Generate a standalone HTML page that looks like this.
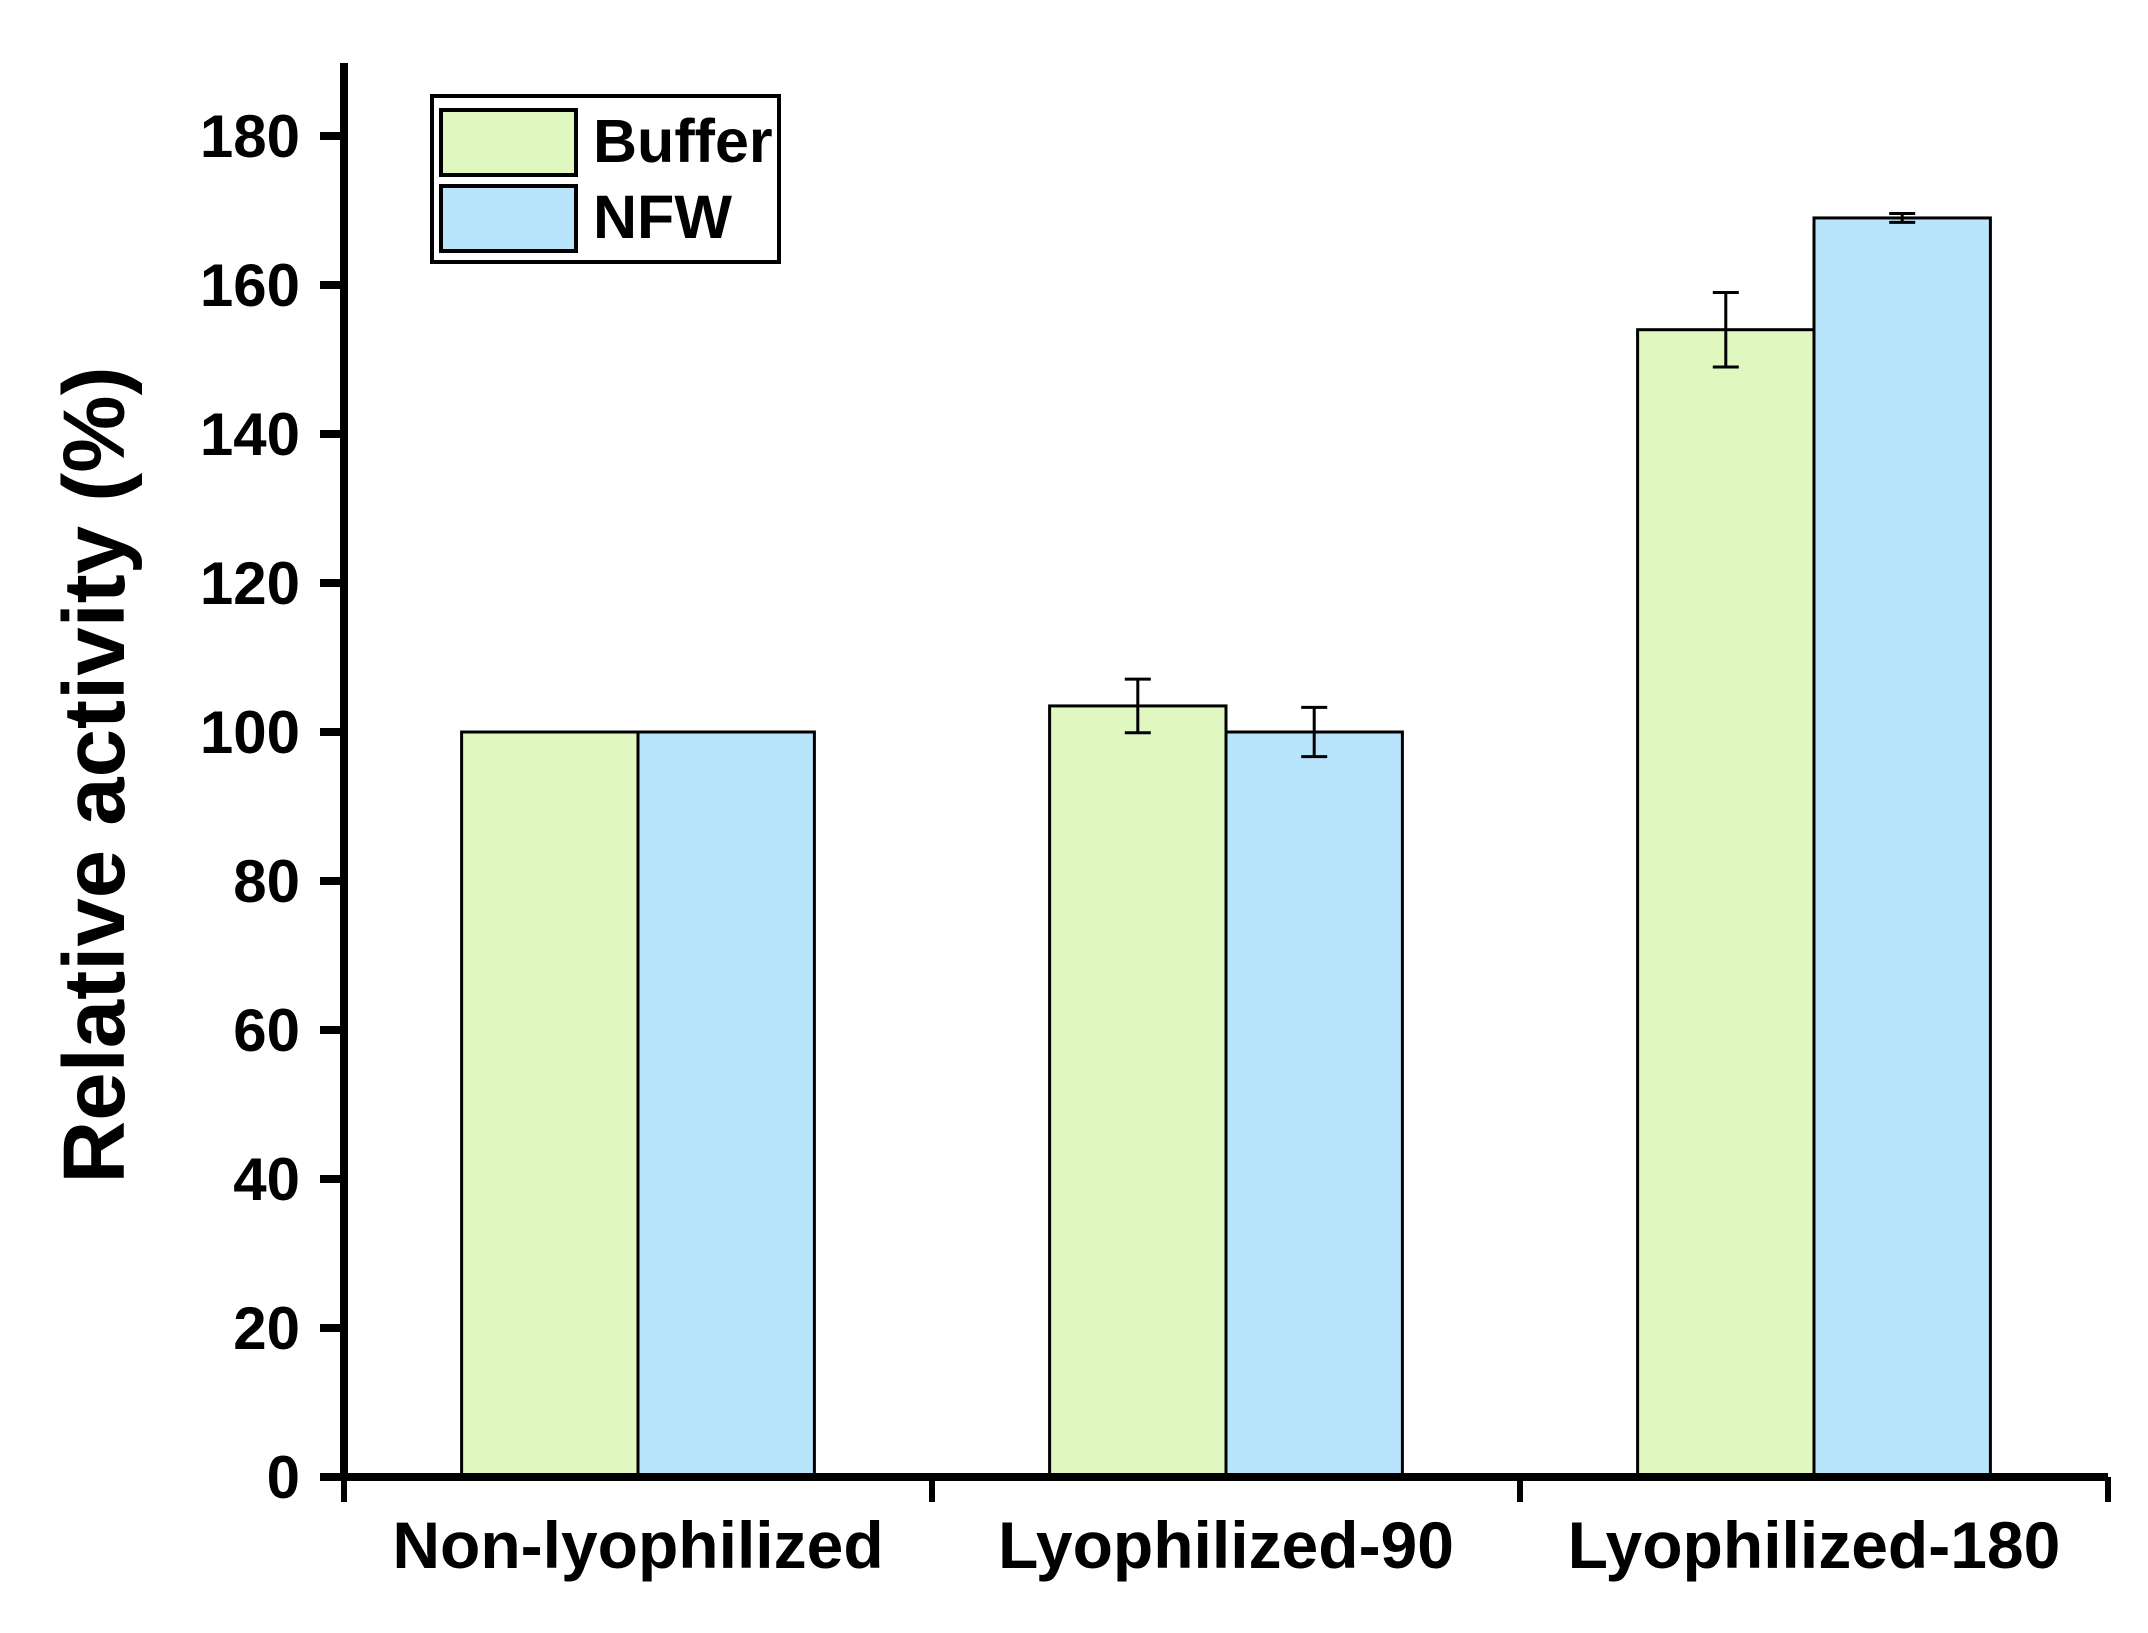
<!DOCTYPE html>
<html><head><meta charset="utf-8"><style>
html,body{margin:0;padding:0;background:#fff;}
svg{display:block;font-family:"Liberation Sans",Arial,sans-serif;font-weight:bold;}
</style></head><body>
<svg id="chart" width="2148" height="1633" viewBox="0 0 2148 1633">
<g id="bars"></g>
<g id="axes"></g>
<text x="0" y="0" transform="translate(124,775) rotate(-90)" text-anchor="middle" font-size="87">Relative activity (%)</text>
<g>
<rect x="432" y="96" width="347" height="166" fill="#fff" stroke="#000" stroke-width="4"/>
<rect x="441" y="110" width="135" height="65" fill="#e0f7c0" stroke="#000" stroke-width="4"/>
<text x="593" y="162" font-size="61">Buffer</text>
<rect x="441" y="186" width="135" height="65" fill="#b9e5fc" stroke="#000" stroke-width="4"/>
<text x="593" y="238" font-size="61">NFW</text>
</g>
</svg>
<script>
const categories = ["Non-lyophilized","Lyophilized-90","Lyophilized-180"];
const bufferValues = [100, 103.5, 154];
const bufferErrors = [0, 3.6, 5];
const nfwValues = [100, 100, 169];
const nfwErrors = [0, 3.3, 0.6];
const yTicks = [0,20,40,60,80,100,120,140,160,180];

const NS = "http://www.w3.org/2000/svg";
const x0 = 344, x1 = 2108, y0 = 1477, yTop = 63;
const pxPerUnit = (1477 - 136) / 180;
const yScale = v => y0 - v * pxPerUnit;
const groupW = (x1 - x0) / categories.length;
const barW = groupW * 0.3;
const groupCenter = i => x0 + groupW * (i + 0.5);
function mk(tag, attrs, parent){const e=document.createElementNS(NS,tag);for(const k in attrs)e.setAttribute(k,attrs[k]);parent.appendChild(e);return e;}
const bars = document.getElementById('bars');
const axes = document.getElementById('axes');
const series = [
 {vals: bufferValues, errs: bufferErrors, fill: "#e0f7c0", off: -1, name: "buffer"},
 {vals: nfwValues, errs: nfwErrors, fill: "#b9e5fc", off: 0, name: "nfw"}
];
series.forEach(s => {
 s.vals.forEach((v, i) => {
  const bx = groupCenter(i) + s.off * barW;
  const r = mk('rect', {x: bx, y: yScale(v), width: barW, height: y0 - yScale(v), fill: s.fill, stroke: "#000", "stroke-width": 3}, bars);
  
  
  const e = s.errs[i];
  if (e > 0) {
   const cx = bx + barW / 2;
   const g = mk('g', {stroke: "#000", "stroke-width": 3}, bars);
   
   
   mk('line', {x1: cx, x2: cx, y1: yScale(v + e), y2: yScale(v - e)}, g);
   mk('line', {x1: cx - 13, x2: cx + 13, y1: yScale(v + e), y2: yScale(v + e)}, g);
   mk('line', {x1: cx - 13, x2: cx + 13, y1: yScale(v - e), y2: yScale(v - e)}, g);
  }
 });
});
const ya = mk('line', {x1: x0, x2: x0, y1: yTop, y2: y0 + 4, stroke: "#000", "stroke-width": 8}, axes);


yTicks.forEach(t => {
 const y = yScale(t);
 const tk = mk('line', {x1: x0 - 24, x2: x0, y1: y, y2: y, stroke: "#000", "stroke-width": 8}, axes);
 
 
 const lb = mk('text', {x: 300, y: y + 21, "text-anchor": "end", "font-size": 60}, axes);
 lb.textContent = t;
 
 
});
const xa = mk('line', {x1: x0 - 24, x2: x1, y1: y0, y2: y0, stroke: "#000", "stroke-width": 8}, axes);


for (let i = 0; i <= categories.length; i++) {
 const x = x0 + groupW * i;
 const tk = mk('line', {x1: x, x2: x, y1: y0, y2: y0 + 25, stroke: "#000", "stroke-width": 6}, axes);
 
 
}
categories.forEach((c, i) => {
 const lb = mk('text', {x: groupCenter(i), y: 1568, "text-anchor": "middle", "font-size": 66}, axes);
 lb.textContent = c;
 
 
});
</script>
</body></html>
